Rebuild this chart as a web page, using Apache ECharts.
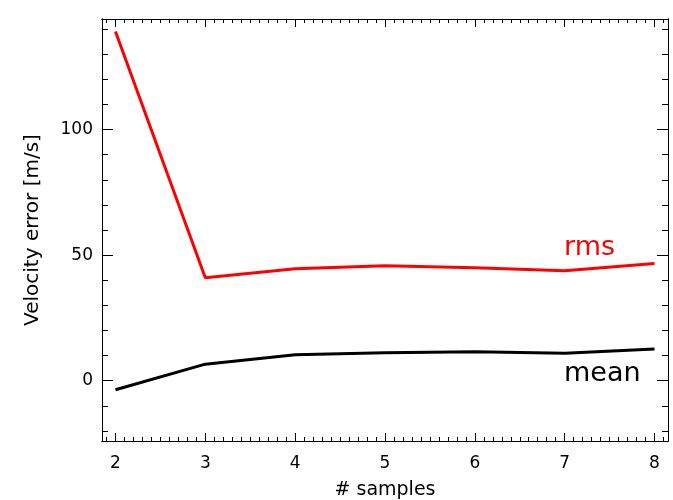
<!DOCTYPE html>
<html>
<head>
<meta charset="utf-8">
<script src="https://cdn.jsdelivr.net/npm/echarts@6/dist/echarts.min.js"></script>
<style>html,body{margin:0;padding:0;background:#fff}#c{width:673px;height:500px}</style>
</head>
<body>
<div id="c"></div>
<script>
const samples = [2, 3, 4, 5, 6, 7, 8];
const rmsValues = [139, 41, 44.6, 45.8, 45, 43.8, 46.7];
const meanValues = [-3.6, 6.6, 10.3, 11.1, 11.5, 10.9, 12.6];
const xMajorTicks = [2, 3, 4, 5, 6, 7, 8];
const xMinorTicks = [];
for (let i = 19; i <= 81; i++) xMinorTicks.push(i / 10);
const yMajorTicks = [0, 50, 100];
const yMinorTicks = [-20, -10, 0, 10, 20, 30, 40, 50, 60, 70, 80, 90, 100, 110, 120, 130, 140];
const xRange = [1.85, 8.15];
const yRange = [-24, 144];

const FONT = 'DejaVu Sans';
const lineStyle = { color: '#000', width: 1 };

function xAx(pos, ticks, len, labels, name) {
  return {
    type: 'value', position: pos, min: xRange[0], max: xRange[1], gridIndex: 0,
    axisLine: { show: true, onZero: false, lineStyle },
    axisTick: { show: true, inside: true, length: len, customValues: ticks, lineStyle },
    axisLabel: labels ? { show: true, customValues: ticks, color: '#000', fontFamily: FONT, fontSize: 17, margin: 14 } : { show: false },
    splitLine: { show: false },
    name: name || '', nameLocation: 'middle', nameGap: 40,
    nameTextStyle: { color: '#000', fontFamily: FONT, fontSize: 19 }
  };
}
function yAx(pos, ticks, len, labels, name) {
  return {
    type: 'value', position: pos, min: yRange[0], max: yRange[1], gridIndex: 0,
    axisLine: { show: true, onZero: false, lineStyle },
    axisTick: { show: true, inside: true, length: len, customValues: ticks, lineStyle },
    axisLabel: labels ? { show: true, customValues: ticks, color: '#000', fontFamily: FONT, fontSize: 17, margin: 9 } : { show: false },
    splitLine: { show: false },
    name: name || '', nameLocation: 'middle', nameGap: 59, nameRotate: 90,
    nameTextStyle: { color: '#000', fontFamily: FONT, fontSize: 20 }
  };
}

const chart = echarts.init(document.getElementById('c'), null, { renderer: 'canvas' });
chart.setOption({
  animation: false,
  backgroundColor: '#fff',
  grid: { left: 102, top: 19, right: 5, bottom: 59, containLabel: false, outerBoundsMode: 'none' },
  xAxis: [
    xAx('bottom', xMajorTicks, 8, true, '# samples'),
    xAx('bottom', xMinorTicks, 4, false),
    xAx('top', xMajorTicks, 8, false),
    xAx('top', xMinorTicks, 4, false)
  ],
  yAxis: [
    yAx('left', yMajorTicks, 11, true, 'Velocity error [m/s]'),
    yAx('left', yMinorTicks, 6, false),
    yAx('right', yMajorTicks, 11, false),
    yAx('right', yMinorTicks, 6, false)
  ],
  series: [
    { type: 'line', xAxisIndex: 0, yAxisIndex: 0, data: samples.map((x, i) => [x, rmsValues[i]]),
      showSymbol: false, symbol: 'none', lineStyle: { color: '#ff0000', width: 3 }, clip: true },
    { type: 'line', xAxisIndex: 0, yAxisIndex: 0, data: samples.map((x, i) => [x, meanValues[i]]),
      showSymbol: false, symbol: 'none', lineStyle: { color: '#000', width: 3 }, clip: true }
  ],
  graphic: [
    { type: 'text', left: 564, top: 234, style: { text: 'rms', fill: '#ff0000', font: '27px "DejaVu Sans"' } },
    { type: 'text', left: 564, top: 360, style: { text: 'mean', fill: '#000', font: '27px "DejaVu Sans"' } }
  ]
});
</script>
</body>
</html>
